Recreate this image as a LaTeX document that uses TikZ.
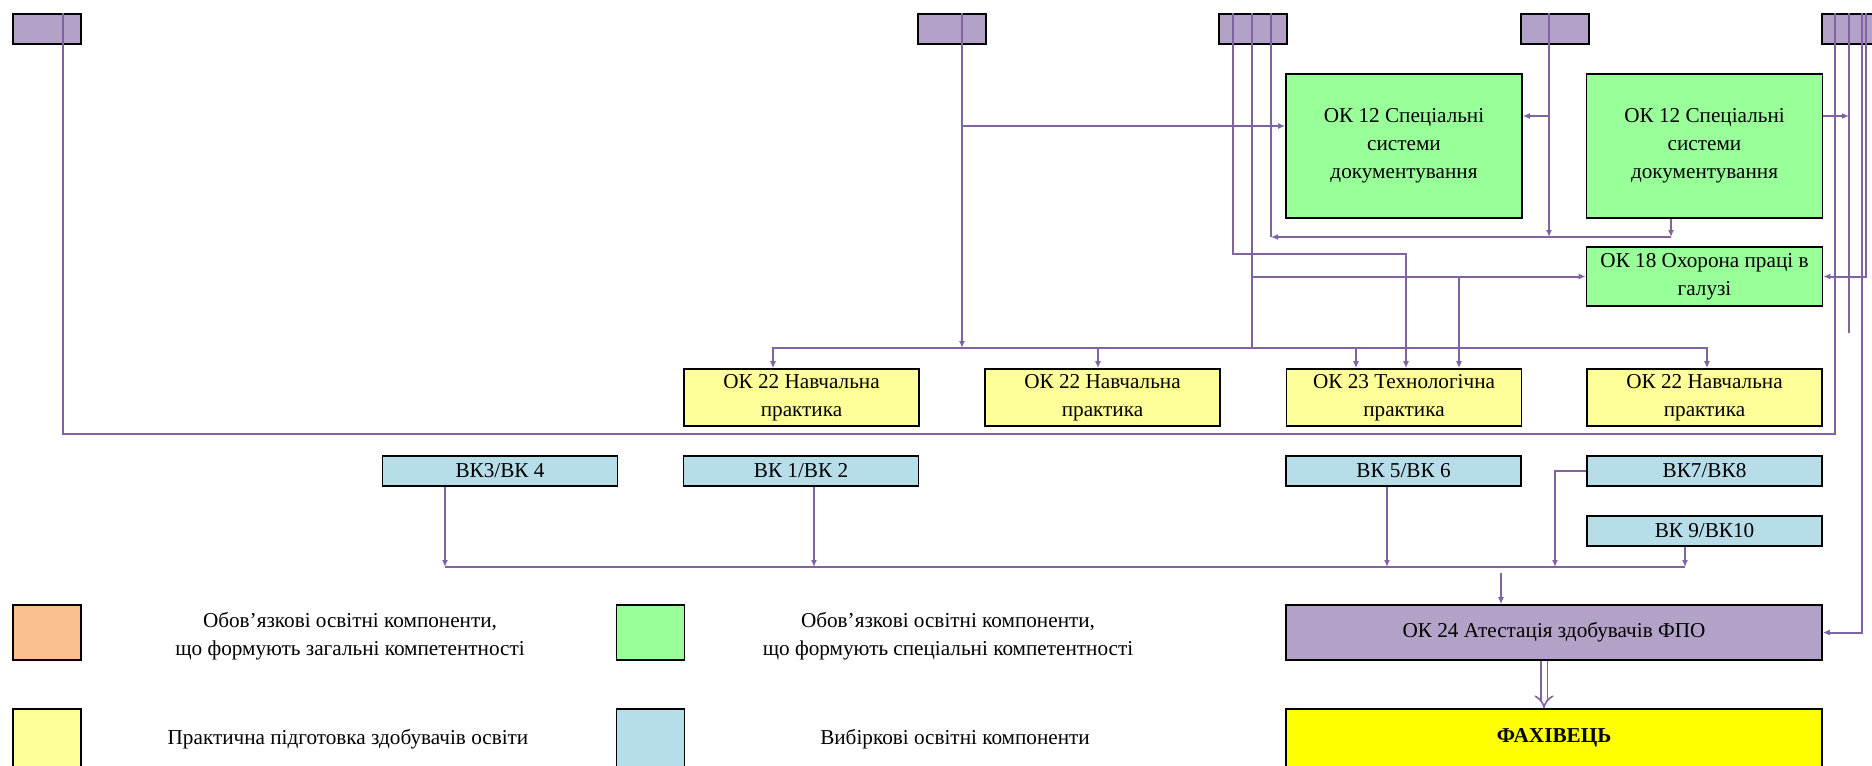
\documentclass[tikz,border=0pt]{standalone}
\usepackage{fontspec}
\setmainfont{Liberation Serif}
\usetikzlibrary{arrows.meta}
\definecolor{linepurple}{HTML}{8064A2}
\definecolor{boxpurple}{HTML}{B3A2C7}
\definecolor{boxgreen}{HTML}{99FF99}
\definecolor{boxyellow}{HTML}{FFFF99}
\definecolor{boxblue}{HTML}{B7DDE8}
\definecolor{boxorange}{HTML}{FAC090}
\definecolor{faxyellow}{HTML}{FFFF00}
\begin{document}
\begin{tikzpicture}[x=0.5pt, y=-0.5pt, >={Latex[length=3.5pt,width=3pt]},
        font=\fontsize{10.6}{14}\selectfont,
        box/.style={draw=black, line width=0.8pt, inner sep=0pt, align=center},
        topbox/.style={box, fill=boxpurple, minimum width=34pt, minimum height=15pt},
        okbox/.style={box, fill=boxgreen, minimum width=118pt, minimum height=72pt},
        practbox/.style={box, fill=boxyellow, minimum width=117.5pt, minimum height=28.5pt},
        vkbox/.style={box, fill=boxblue, minimum width=117.5pt, minimum height=15pt},
        keybox/.style={box, minimum width=34pt, minimum height=27.5pt},
        keytext/.style={align=center},
        link/.style={draw=linepurple, line width=1pt}]
        \useasboundingbox (0,0) rectangle (1872,765);
        \node[topbox] (p1) at (47,29) {};
        \node[topbox] (p2) at (952,29) {};
        \node[topbox] (p3) at (1253,29) {};
        \node[topbox] (p4) at (1555,29) {};
        \node[topbox] (p5) at (1856,29) {};
        \node[okbox] (g1) at (1404,146) {ОК 12 Спеціальні\\системи\\документування};
        \node[okbox] (g2) at (1704.5,146) {ОК 12 Спеціальні\\системи\\документування};
        \node[okbox, minimum height=29.5pt] (ok18) at (1704.5,276.5) {ОК 18 Охорона праці в\\галузі};
        \node[practbox] (y1) at (801.5,397.5) {ОК 22 Навчальна\\практика};
        \node[practbox] (y2) at (1102.5,397.5) {ОК 22 Навчальна\\практика};
        \node[practbox] (y3) at (1404,397.5) {ОК 23 Технологічна\\практика};
        \node[practbox] (y4) at (1704.5,397.5) {ОК 22 Навчальна\\практика};
        \node[vkbox] (b1) at (500,471) {ВК3/ВК 4};
        \node[vkbox] (b2) at (801,471) {ВК 1/ВК 2};
        \node[vkbox] (b3) at (1403.5,471) {ВК 5/ВК 6};
        \node[vkbox] (b4) at (1704.5,471) {ВК7/ВК8};
        \node[vkbox] (b5) at (1704.5,531) {ВК 9/ВК10};
        \node[box, fill=boxpurple, minimum width=268pt, minimum height=27.5pt] (ok24) at (1554,632.5) {ОК 24 Атестація здобувачів ФПО};
        \node[box, fill=faxyellow, minimum width=268pt, minimum height=33pt, text height=7pt, text depth=7pt, font=\fontsize{10.6}{14}\selectfont\bfseries] (fax) at (1554,742) {ФАХІВЕЦЬ};
        \node[keybox, fill=boxorange] (keyorange) at (47,632.5) {};
        \node[keybox, fill=boxgreen] (keygreen) at (650.5,632.5) {};
        \node[keybox, fill=boxyellow, minimum height=33pt] (keyyellow) at (47,742) {};
        \node[keybox, fill=boxblue, minimum height=33pt] (keyblue) at (650.5,742) {};
        \node[keytext] (textorange) at (350,636) {Обов’язкові освітні компоненти,\\ що формують загальні компетентності};
        \node[keytext] (textgreen) at (948,636) {Обов’язкові освітні компоненти,\\ що формують спеціальні компетентності};
        \node[keytext] (textyellow) at (348,739) {Практична підготовка здобувачів освіти};
        \node[keytext] (textblue) at (955,739) {Вибіркові освітні компоненти};
        \coordinate (ybusL) at (773,348);
        \coordinate (ybusR) at (1707,348);
        \coordinate (vbusL) at (445,567);
        \coordinate (vbusR) at (1685,567);
        \coordinate (gbusL) at (1271,237);
        \coordinate (gbusR) at (1671,237);
        \coordinate (p5end) at (1849,333);
        \coordinate (okin) at (1501,573);
        \coordinate (g1inw) at ([yshift=10pt]g1.west);
        \coordinate (g1ine) at ([yshift=15pt]g1.east);
        \coordinate (g2out) at ([yshift=15pt]g2.east);
        \draw[link] (63,0 |- p1.north) |- (1835,434) -- (1835,0 |- p5.north);
        \draw[link,->] (962,0 |- p2.north) -- (962,0 |- ybusL);
        \draw[link,<-] (g1inw) -- (962,0 |- g1inw);
        \draw[link,->] (1233,0 |- p3.north) |- (1406,254) -- (1406,0 |- y3.north);
        \draw[link] (1252,0 |- p3.north) -- (1252,0 |- ybusL);
        \draw[link] (1271,0 |- p3.north) -- (gbusL);
        \draw[link,<-] (ok18.west) -- (1252,0 |- ok18.west);
        \draw[link,->] (1459,0 |- ok18.west) -- (1459,0 |- y3.north);
        \draw[link,->] (1549,0 |- p4.north) -- (1549,0 |- gbusL);
        \draw[link,<-] (g1ine) -- (1549,0 |- g1ine);
        \draw[link,->] (gbusR |- g2.south) -- (gbusR);
        \draw[link,->] (gbusR) -- (gbusL);
        \draw[link,->] (g2out) -- (1849,0 |- g2out);
        \draw[link] (1849,0 |- p5.north) -- (p5end);
        \draw[link,->] (1866,0 |- p5.north) |- (ok18.east);
        \draw[link,->] (1862,0 |- p5.north) |- (ok24.east);
        \draw[link,<->] (ybusL |- y1.north) -- (ybusL) -- (ybusR) -- (ybusR |- y4.north);
        \draw[link,->] (1098,0 |- ybusL) -- (1098,0 |- y2.north);
        \draw[link,->] (1356,0 |- ybusL) -- (1356,0 |- y3.north);
        \draw[link] (vbusL) -- (vbusR);
        \draw[link,->] (vbusL |- b1.south) -- (vbusL);
        \draw[link,->] (814,0 |- b2.south) -- (814,0 |- vbusL);
        \draw[link,->] (1387,0 |- b3.south) -- (1387,0 |- vbusL);
        \draw[link,->] (b4.west) -| (1555,0 |- vbusL);
        \draw[link,->] (vbusR |- b5.south) -- (vbusR);
        \draw[link,->] (okin) -- (okin |- ok24.north);
        \draw[link, line width=0.8pt, double=white, double distance=2.5pt, -{Implies[length=4pt,width=9pt]}] (1544,0 |- ok24.south) -- (1544,0 |- fax.north);
    \end{tikzpicture}
\end{document}
